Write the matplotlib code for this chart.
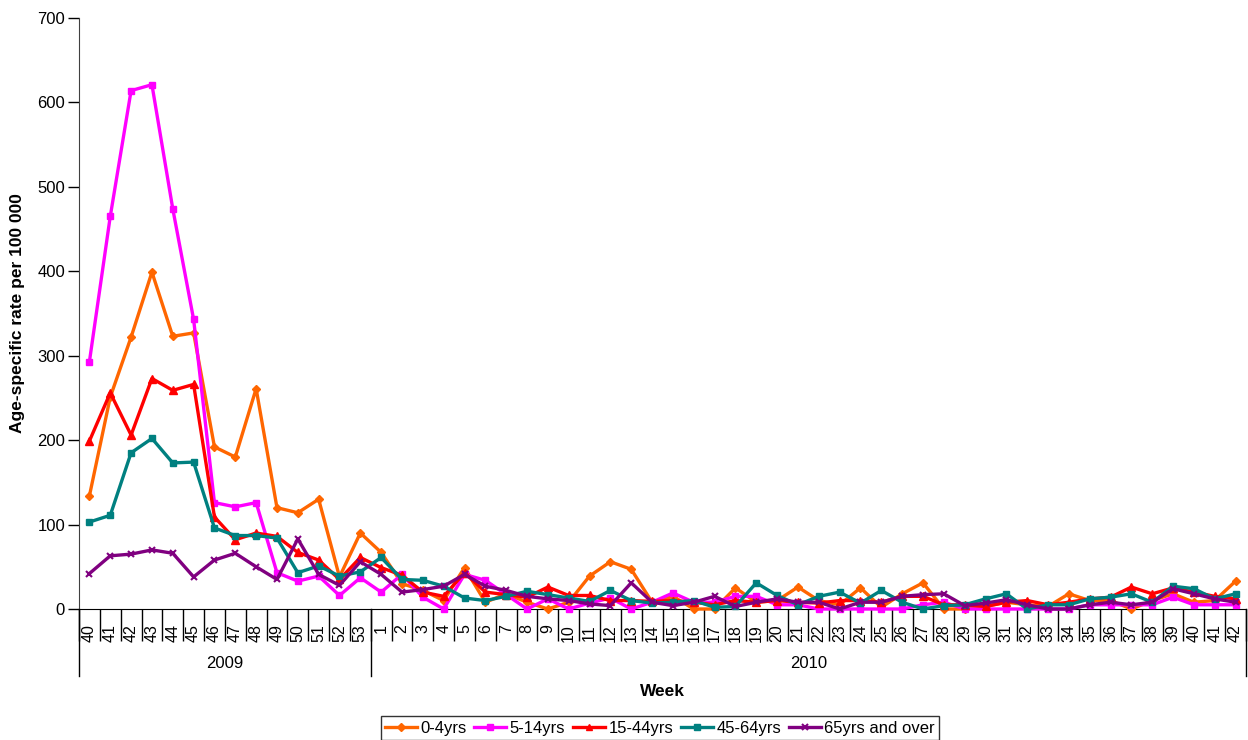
import numpy as np
import matplotlib
matplotlib.use("Agg")
import matplotlib.pyplot as plt
import matplotlib.transforms as mtransforms

plt.rcParams['font.family'] = ['Liberation Sans', 'DejaVu Sans']

weeks_2009 = [str(w) for w in range(40, 54)]
weeks_2010 = [str(w) for w in range(1, 43)]
week_labels = weeks_2009 + weeks_2010
years = ["2009", "2010"]

age_0_4 = [134, 251, 322, 399, 323, 327, 192, 180, 261, 120, 114, 130, 38, 90,
           67, 30, 22, 10, 49, 8, 18, 8, 0, 8, 39, 56, 47, 8, 15, 0, 0, 25, 8, 10,
           26, 10, 5, 25, 2, 18, 31, 0, 0, 3, 8, 5, 3, 18, 10, 10, 0, 10, 18, 8, 10, 33]
age_5_14 = [293, 465, 614, 621, 474, 343, 126, 121, 126, 43, 33, 39, 16, 37,
            20, 41, 14, 0, 41, 34, 17, 0, 12, 0, 7, 13, 0, 8, 19, 8, 8, 15, 15, 5,
            5, 0, 0, 0, 0, 0, 5, 8, 0, 0, 0, 0, 0, 0, 5, 5, 5, 5, 14, 5, 5, 5]
age_15_44 = [199, 256, 206, 273, 259, 266, 109, 82, 90, 86, 67, 58, 35, 61,
             49, 40, 20, 15, 43, 20, 17, 14, 26, 16, 16, 10, 10, 9, 10, 8, 5, 10, 8, 10,
             8, 7, 10, 10, 8, 15, 15, 5, 5, 3, 8, 10, 5, 8, 12, 14, 26, 18, 25, 20, 15, 12]
age_45_64 = [103, 111, 185, 202, 173, 174, 96, 87, 87, 84, 43, 51, 39, 44,
             61, 35, 34, 27, 13, 10, 15, 21, 17, 13, 9, 22, 10, 7, 8, 10, 2, 3, 31, 16,
             5, 15, 20, 7, 22, 8, 0, 4, 5, 12, 18, 0, 5, 5, 12, 14, 18, 8, 27, 24, 12, 18]
age_65_plus = [42, 63, 65, 70, 66, 38, 58, 66, 50, 35, 83, 41, 28, 56,
               41, 20, 23, 27, 41, 27, 22, 15, 12, 10, 6, 4, 31, 8, 4, 8, 15, 3, 8, 12,
               8, 8, 0, 8, 8, 15, 17, 18, 4, 7, 11, 5, 0, 0, 5, 8, 5, 8, 24, 18, 12, 8]

series = [
    ("0-4yrs", age_0_4, "#FF6600", "D", 4.5),
    ("5-14yrs", age_5_14, "#FF00FF", "s", 5),
    ("15-44yrs", age_15_44, "#FF0000", "^", 5.5),
    ("45-64yrs", age_45_64, "#008080", "s", 5),
    ("65yrs and over", age_65_plus, "#800080", "x", 5),
]

W, H = 1248, 740
fig = plt.figure(figsize=(W / 100, H / 100), dpi=100)
left, right, top, bottom = 79, 1246, 18, 609
ax = fig.add_axes([left / W, 1 - bottom / H, (right - left) / W, (bottom - top) / H])

x = np.arange(len(week_labels))
for name, vals, col, mk, ms in series:
    ax.plot(x, vals, color=col, lw=2.4, marker=mk, ms=ms, mfc=col, mec=col,
            mew=1.5 if mk == "x" else 1, label=name, clip_on=False, zorder=3)

ax.set_xlim(-0.5, len(week_labels) - 0.5)
ax.set_ylim(0, 700)
ax.set_yticks(np.arange(0, 701, 100))
ax.tick_params(axis='y', direction='out', length=8, width=1, labelsize=12, pad=2,
               colors='black')

ax.set_xticks(x)
ax.set_xticklabels(week_labels, rotation=90, fontsize=11.5)
ax.tick_params(axis='x', which='major', length=0, pad=11)
ax.set_xticks(np.arange(-0.5, len(week_labels), 1), minor=True)
ax.tick_params(axis='x', which='minor', direction='out', length=23, width=1,
               color='black')

for s in ['top', 'right']:
    ax.spines[s].set_visible(False)
ax.spines['left'].set_color('#404040')
ax.spines['bottom'].set_color('black')

# group separators and year labels
trans = mtransforms.blended_transform_factory(ax.transData, ax.transAxes)
axh = bottom - top
n09 = len(weeks_2009)
for xs in [-0.5, n09 - 0.5, len(week_labels) - 0.5]:
    ax.plot([xs, xs], [0, -(676 - bottom) / axh], transform=trans, color='black',
            lw=1, clip_on=False)
ax.text((n09 - 1) / 2, -(664 - bottom) / axh, years[0], transform=trans,
        ha='center', va='center', fontsize=12)
ax.text(n09 + (len(weeks_2010) - 1) / 2, -(664 - bottom) / axh, years[1],
        transform=trans, ha='center', va='center', fontsize=12)

fig.text((left + right) / 2 / W, 1 - 692 / H, "Week", ha='center', va='center',
         fontsize=12.5, fontweight='bold')
fig.text(18 / W, 1 - (top + bottom) / 2 / H, "Age-specific rate per 100 000",
         rotation=90, ha='center', va='center', fontsize=12.5, fontweight='bold')

leg = fig.legend(loc='center', bbox_to_anchor=(660 / W, 1 - 728 / H), ncol=5,
                 fontsize=12, frameon=True, fancybox=False, shadow=False,
                 handlelength=1.9, handletextpad=0.2, columnspacing=0.5,
                 borderpad=0.25, markerscale=0.8)
leg.get_frame().set_edgecolor('black')
leg.get_frame().set_linewidth(1)

fig.savefig("out.png", dpi=100)
